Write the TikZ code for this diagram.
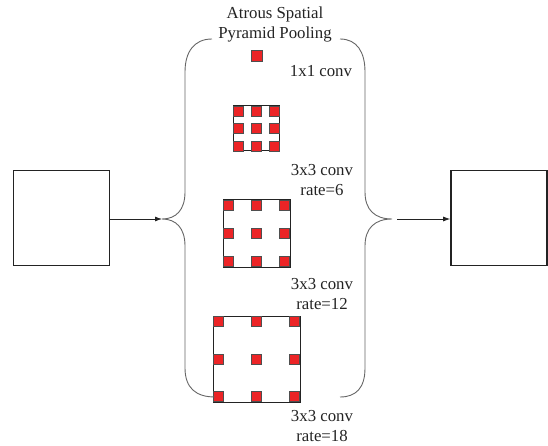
\documentclass[tikz,border=0pt]{standalone}
\usepackage{fontspec}
\setmainfont{Liberation Serif}
\usetikzlibrary{arrows.meta,calc}
\definecolor{cellred}{RGB}{236,36,38}
\definecolor{ink}{RGB}{35,35,35}
\begin{document}
\begin{tikzpicture}[x=1pt,y=-1pt,
  fmap/.style={draw=ink,line width=1.6pt,minimum width=96pt,minimum height=95pt,inner sep=0pt},
  kbox/.style={draw=ink,line width=1pt,inner sep=0pt},
  cell/.style={draw=ink!80,line width=0.6pt,fill=cellred,minimum size=10pt,inner sep=0pt},
  lbl/.style={font=\fontsize{16.8}{20}\selectfont,text=ink,align=center,inner sep=0pt},
  brace/.style={draw=black!60,line width=0.9pt},
  conn/.style={draw=ink,line width=0.8pt,-{Latex[length=7pt,width=5pt]}}]
\useasboundingbox (0,0) rectangle (548,446);

% feature maps
\node[fmap] (in)  at (61.5,218) {};
\node[fmap] (out) at (499,218) {};

% title
\node[lbl] (title) at (275,24) {Atrous Spatial\\Pyramid Pooling};

% 1x1 conv
\node[cell,minimum size=11pt] (c1) at (256.5,55.5) {};
\node[lbl] (l1) at (321,71) {1x1 conv};

% rate 6
\node[kbox,minimum width=46pt,minimum height=45pt] (k6) at (256,128.5) {};
\foreach \i/\x in {1/238,2/256,3/274}
  \foreach \j/\y in {1/111,2/128.5,3/146}
    \node[cell] (s6\i\j) at (\x,\y) {};
\node[lbl] (l6) at (322,180) {3x3 conv\\rate=6};

% rate 12
\node[kbox,minimum width=67pt,minimum height=67pt] (k12) at (256.5,233.5) {};
\foreach \i/\x in {1/228.5,2/256.5,3/284.5}
  \foreach \j/\y in {1/205.5,2/233.5,3/261.5}
    \node[cell] (s12\i\j) at (\x,\y) {};
\node[lbl] (l12) at (322,294) {3x3 conv\\rate=12};

% rate 18
\node[kbox,minimum width=87pt,minimum height=86pt] (k18) at (256.5,359) {};
\foreach \i/\x in {1/218.5,2/256.5,3/294.5}
  \foreach \j/\y in {1/321.5,2/359,3/396.5}
    \node[cell] (s18\i\j) at (\x,\y) {};
\node[lbl] (l18) at (322,426) {3x3 conv\\rate=18};

% braces
\coordinate (lt) at (162,219);
\coordinate (rt) at (392,219);
\coordinate (ro) at (397,219);
\draw[brace] (212,39) .. controls (194,39) and (185,52) .. (185,72) -- (185,192)
  .. controls (185,210) and (176,219) .. (lt)
  .. controls (176,219) and (185,228) .. (185,246) -- (185,368)
  .. controls (185,388) and (196,397) .. (215,397);
\draw[brace] (340,39) .. controls (357,39) and (365,52) .. (365,72) -- (365,192)
  .. controls (365,210) and (375,219) .. (rt)
  .. controls (375,219) and (365,228) .. (365,246) -- (365,368)
  .. controls (365,388) and (356,397) .. (340,397);

% connectors
\draw[conn] (in.east |- lt) -- (lt);
\draw[conn] (ro) -- (out.west |- ro);
\end{tikzpicture}
\end{document}
